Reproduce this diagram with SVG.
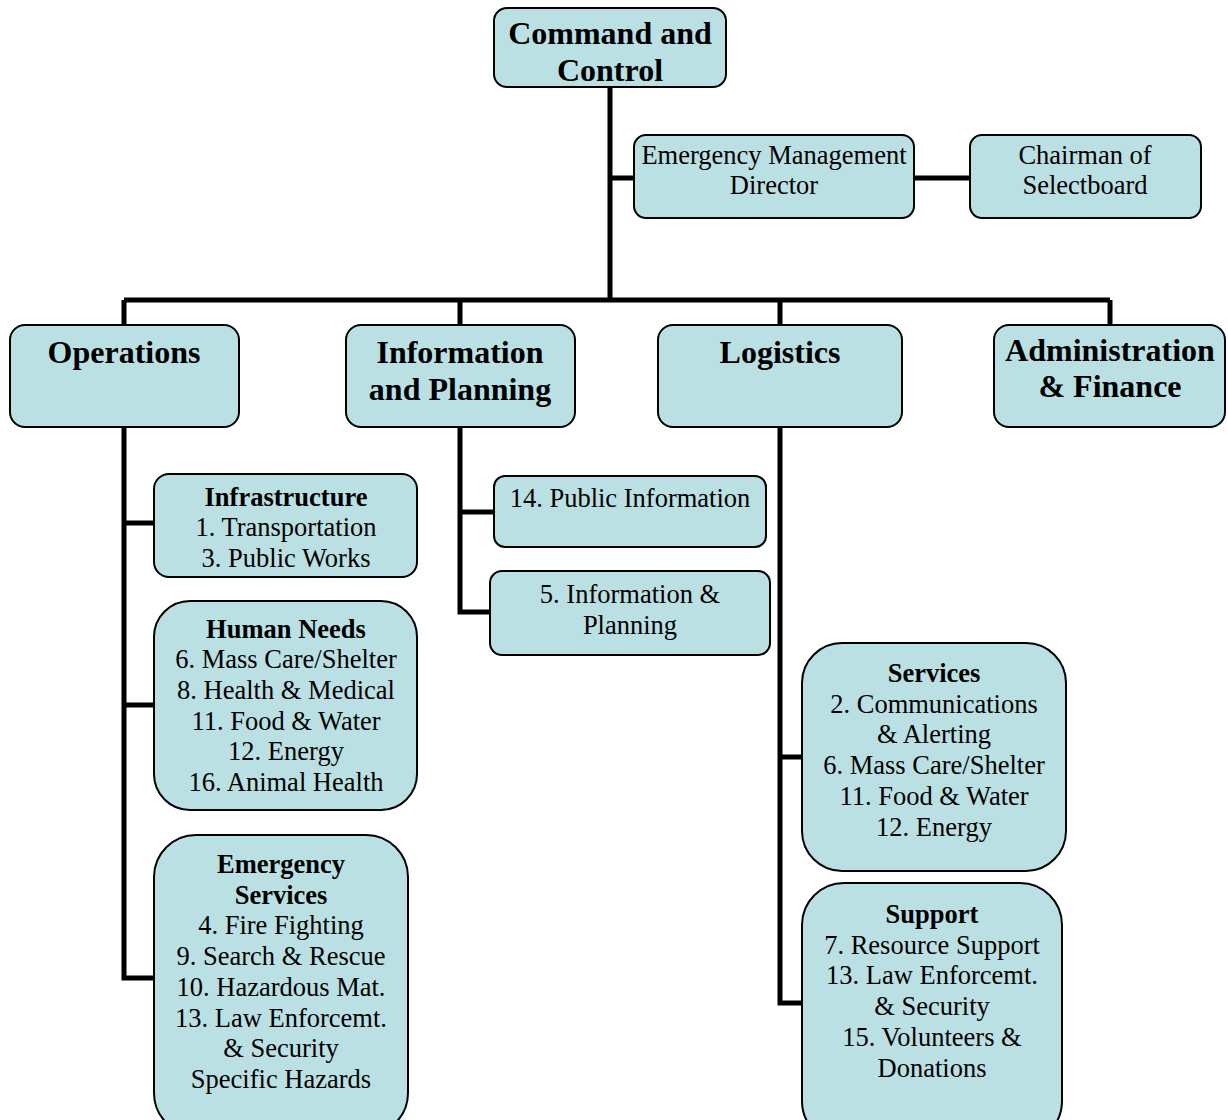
<svg xmlns="http://www.w3.org/2000/svg" width="1228" height="1120" viewBox="0 0 1228 1120">
<style>
.box{fill:#bae0e3;stroke:#000;stroke-width:2}
.con{fill:none;stroke:#000;stroke-width:5}
text{font-family:"Liberation Serif","Times New Roman",serif;fill:#000;text-anchor:middle}
.h1{font-size:32px;font-weight:bold}
.h2{font-size:26.5px;font-weight:bold}
.t{font-size:26.5px}
</style>
<rect width="1228" height="1120" fill="#fff"/>
<g id="connectors">
<path class="con" d="M610 87V300M610 178H634M914 178H970M124 300H1110M124 300V325M460 300V325M780 300V325M1110 300V325"/>
<path class="con" d="M124 427V978H154M124 523H154M124 705H154"/>
<path class="con" d="M460 427V612H490M460 512H494"/>
<path class="con" d="M780 427V1003H802M780 757H802"/>
</g>
<g id="command">
<rect class="box" x="494" y="8" width="232" height="79" rx="13"/>
<text class="h1" x="610" y="44">Command and</text>
<text class="h1" x="610" y="81">Control</text>
</g>
<g id="emd">
<rect class="box" x="634" y="135" width="280" height="83" rx="12"/>
<text class="t" x="774" y="164">Emergency Management</text>
<text class="t" x="774" y="194">Director</text>
</g>
<g id="chairman">
<rect class="box" x="970" y="135" width="231" height="83" rx="12"/>
<text class="t" x="1085" y="164">Chairman of</text>
<text class="t" x="1085" y="194">Selectboard</text>
</g>
<g id="operations">
<rect class="box" x="10" y="325" width="229" height="102" rx="15"/>
<text class="h1" x="124" y="363">Operations</text>
</g>
<g id="infoplanning">
<rect class="box" x="346" y="325" width="229" height="102" rx="15"/>
<text class="h1" x="460" y="363">Information</text>
<text class="h1" x="460" y="400">and Planning</text>
</g>
<g id="logistics">
<rect class="box" x="658" y="325" width="244" height="102" rx="15"/>
<text class="h1" x="780" y="363">Logistics</text>
</g>
<g id="adminfinance">
<rect class="box" x="994" y="325" width="231" height="102" rx="15"/>
<text class="h1" x="1110" y="361">Administration</text>
<text class="h1" x="1110" y="397">&amp; Finance</text>
</g>
<g id="infrastructure">
<rect class="box" x="154" y="474" width="263" height="103" rx="15"/>
<text class="h2" x="286" y="506">Infrastructure</text>
<text class="t" x="286" y="536">1. Transportation</text>
<text class="t" x="286" y="567">3. Public Works</text>
</g>
<g id="humanneeds">
<rect class="box" x="154" y="601" width="263" height="209" rx="36"/>
<text class="h2" x="286" y="638">Human Needs</text>
<text class="t" x="286" y="668">6. Mass Care/Shelter</text>
<text class="t" x="286" y="699">8. Health &amp; Medical</text>
<text class="t" x="286" y="730">11. Food &amp; Water</text>
<text class="t" x="286" y="760">12. Energy</text>
<text class="t" x="286" y="791">16. Animal Health</text>
</g>
<g id="emergencyservices">
<rect class="box" x="154" y="835" width="254" height="300" rx="42"/>
<text class="h2" x="281" y="873">Emergency</text>
<text class="h2" x="281" y="904">Services</text>
<text class="t" x="281" y="934">4. Fire Fighting</text>
<text class="t" x="281" y="965">9. Search &amp; Rescue</text>
<text class="t" x="281" y="996">10. Hazardous Mat.</text>
<text class="t" x="281" y="1027">13. Law Enforcemt.</text>
<text class="t" x="281" y="1057">&amp; Security</text>
<text class="t" x="281" y="1088">Specific Hazards</text>
</g>
<g id="publicinfo">
<rect class="box" x="494" y="476" width="272" height="71" rx="11"/>
<text class="t" x="630" y="507">14. Public Information</text>
</g>
<g id="infoplan5">
<rect class="box" x="490" y="571" width="280" height="84" rx="12"/>
<text class="t" x="630" y="603">5. Information &amp;</text>
<text class="t" x="630" y="634">Planning</text>
</g>
<g id="services">
<rect class="box" x="802" y="643" width="264" height="228" rx="40"/>
<text class="h2" x="934" y="682">Services</text>
<text class="t" x="934" y="713">2. Communications</text>
<text class="t" x="934" y="743">&amp; Alerting</text>
<text class="t" x="934" y="774">6. Mass Care/Shelter</text>
<text class="t" x="934" y="805">11. Food &amp; Water</text>
<text class="t" x="934" y="836">12. Energy</text>
</g>
<g id="support">
<rect class="box" x="802" y="883" width="260" height="260" rx="42"/>
<text class="h2" x="932" y="923">Support</text>
<text class="t" x="932" y="954">7. Resource Support</text>
<text class="t" x="932" y="984">13. Law Enforcemt.</text>
<text class="t" x="932" y="1015">&amp; Security</text>
<text class="t" x="932" y="1046">15. Volunteers &amp;</text>
<text class="t" x="932" y="1077">Donations</text>
</g>
</svg>
